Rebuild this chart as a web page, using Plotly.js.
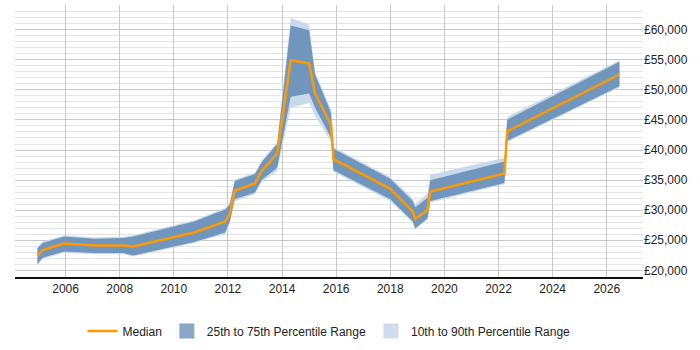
<!DOCTYPE html>
<html>
<head>
<meta charset="utf-8">
<script src="https://cdn.plot.ly/plotly-3.0.1.min.js"></script>
<style>
  html, body { margin: 0; padding: 0; background: #fff; }
  #chart { width: 700px; height: 350px; }
</style>
</head>
<body>
<div id="chart"></div>
<script>
// Salary percentiles over time (decimal years)
const years  = [2004.96, 2005.15, 2005.95, 2007.05, 2008.13, 2008.5, 2010.75, 2011.9, 2012.07, 2012.25, 2013.0, 2013.25, 2013.82, 2014.32, 2015.0, 2015.22, 2015.81, 2015.9, 2018.0, 2018.83, 2018.92, 2019.38, 2019.48, 2022.22, 2022.32, 2026.47];
const median = [22470, 23360, 24460, 24150, 24150, 23990, 26300, 28140, 29450, 33230, 34440, 36540, 39420, 54920, 54390, 49400, 44150, 38480, 33550, 29810, 28550, 30080, 33120, 36110, 43100, 52550];
const p75    = [23670, 24570, 25620, 25250, 25400, 25620, 28140, 30130, 31000, 34850, 36020, 38000, 41000, 60680, 59900, 52550, 46250, 40210, 35230, 31550, 30500, 32080, 34960, 38110, 45040, 54650];
const p25    = [21050, 22100, 23150, 22880, 22880, 22470, 24730, 26300, 28140, 31810, 32960, 35070, 37060, 48870, 49400, 47040, 42050, 36650, 31810, 28140, 26980, 28660, 31550, 34540, 41530, 50600];
const p90    = [23900, 24800, 25800, 25450, 25600, 25850, 28350, 30350, 31300, 35050, 36250, 38300, 41300, 62000, 60800, 53000, 46700, 40500, 35500, 32000, 31000, 32800, 35900, 38700, 45500, 54900];
const p10    = [20900, 21900, 22950, 22700, 22700, 22300, 24550, 26050, 27900, 31500, 32700, 34700, 36500, 47040, 47830, 45720, 41300, 36400, 31500, 27900, 26800, 28500, 31300, 34300, 41300, 50400];

const xTicks = [2006, 2008, 2010, 2012, 2014, 2016, 2018, 2020, 2022, 2024, 2026];
const yTicks = [20000, 25000, 30000, 35000, 40000, 45000, 50000, 55000, 60000];
const yTickText = yTicks.map(v => '\u00a3' + v.toLocaleString('en-GB'));

const DARK = 'rgb(113,150,190)';
const LIGHT = 'rgb(201,218,236)';
const ORANGE = '#ff9900';

// closed polygon between a lower and an upper series
function band(lo, hi) {
  return {
    x: years.concat(years.slice().reverse()),
    y: hi.concat(lo.slice().reverse())
  };
}

const b90 = band(p10, p90);
const b75 = band(p25, p75);

const traces = [
  { x: b90.x, y: b90.y, type: 'scatter', mode: 'lines', fill: 'toself',
    fillcolor: LIGHT, line: { width: 0 }, hoverinfo: 'skip', showlegend: false },
  { x: b75.x, y: b75.y, type: 'scatter', mode: 'lines', fill: 'toself',
    fillcolor: DARK, line: { width: 0 }, hoverinfo: 'skip', showlegend: false },
  { x: years, y: median, type: 'scatter', mode: 'lines', name: 'Median',
    line: { color: ORANGE, width: 2.5 }, legendrank: 1 },
  // legend swatches for the two ranges
  { x: [null], y: [null], type: 'scatter', mode: 'markers', name: '25th to 75th Percentile Range',
    marker: { symbol: 'square', size: 15, color: 'rgb(138,167,199)' }, legendrank: 2 },
  { x: [null], y: [null], type: 'scatter', mode: 'markers', name: '10th to 90th Percentile Range',
    marker: { symbol: 'square', size: 15, color: 'rgb(205,221,238)' }, legendrank: 3 }
];

const layout = {
  width: 700, height: 350,
  margin: { l: 15, r: 57, t: 5, b: 58 },
  paper_bgcolor: '#fff', plot_bgcolor: '#fff',
  font: { family: 'Liberation Sans, Arial, sans-serif', size: 12, color: '#222' },
  showlegend: true,
  legend: {
    orientation: 'h', x: 0.5, xanchor: 'center', y: -0.145, yanchor: 'top',
    font: { size: 12, color: '#222' }, itemwidth: 30, tracegroupgap: 0
  },
  xaxis: {
    type: 'linear', range: [2004.13, 2027.34],
    tickmode: 'array', tickvals: xTicks, ticktext: xTicks.map(String),
    showgrid: true, gridcolor: '#c8c8c8', gridwidth: 1,
    zeroline: false, showline: true, linecolor: '#111', linewidth: 1.5,
    ticks: '', fixedrange: true
  },
  yaxis: {
    side: 'right', range: [18900, 64100],
    tickmode: 'array', tickvals: yTicks, ticktext: yTickText,
    showgrid: true, gridcolor: '#c8c8c8', gridwidth: 1,
    minor: { tickmode: 'linear', tick0: 0, dtick: 1000, showgrid: true, gridcolor: '#e4e4e4', gridwidth: 1, ticks: '' },
    zeroline: false, showline: false, ticks: '', fixedrange: true
  }
};

Plotly.newPlot('chart', traces, layout, { displayModeBar: false, staticPlot: true });
</script>
</body>
</html>
